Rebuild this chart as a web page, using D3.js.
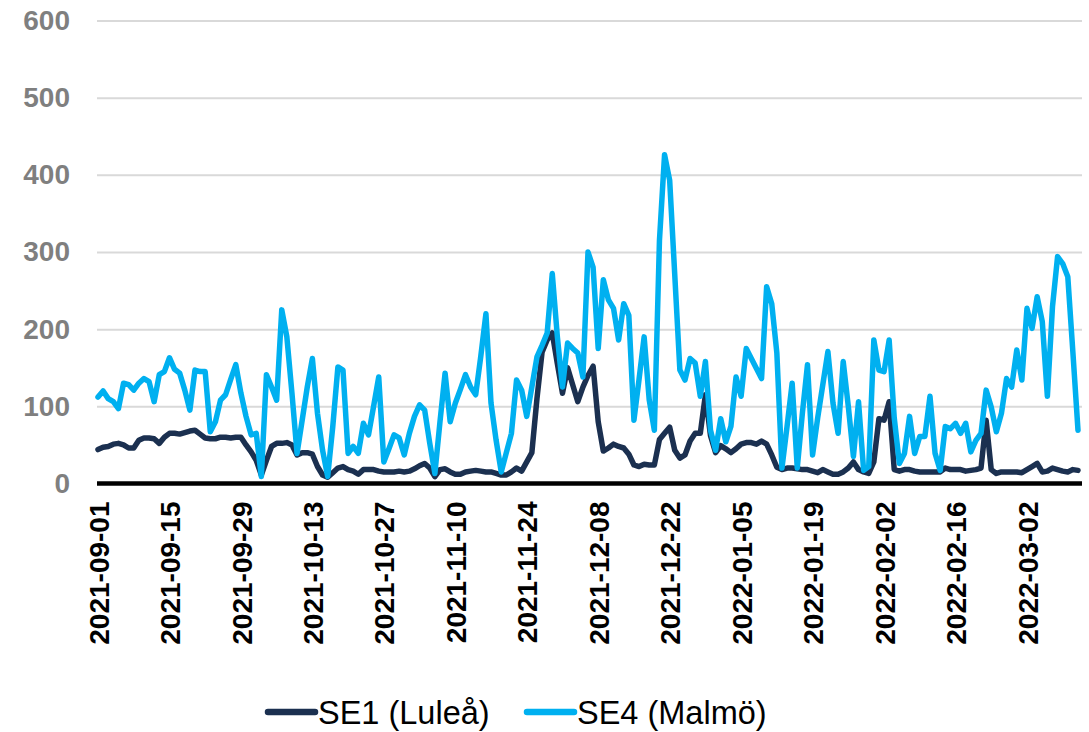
<!DOCTYPE html>
<html>
<head>
<meta charset="utf-8">
<script src="https://cdn.jsdelivr.net/npm/d3@7/dist/d3.min.js"></script>
<style>
  body { margin: 0; background: #fff; }
  svg { font-family: Arial, "Liberation Sans", sans-serif; display: block; }
</style>
</head>
<body>
<svg id="chart"></svg>
<script>
const width = 1089;
const height = 732;

// daily prices, first day 2021-09-01
const startDate = '2021-09-01';

const tickLabels = ['2021-09-01', '2021-09-15', '2021-09-29', '2021-10-13', '2021-10-27',
  '2021-11-10', '2021-11-24', '2021-12-08', '2021-12-22', '2022-01-05', '2022-01-19',
  '2022-02-02', '2022-02-16', '2022-03-02'];

const yTicks = [0, 100, 200, 300, 400, 500, 600];

const seriesNames = ['SE1 (Luleå)', 'SE4 (Malmö)'];

const se1 = [
  44, 47, 48, 51, 52, 50, 46, 46, 56, 59, 59, 58, 52, 60, 65, 65, 64, 66, 68, 69, 64, 59, 58, 58,
  60, 60, 59, 60, 60, 50, 41, 30, 11, 30, 48, 52, 52, 53, 50, 37, 40, 40, 38, 22, 11, 8, 14, 20, 22,
  18, 16, 12, 18, 18, 18, 16, 15, 15, 15, 16, 15, 16, 19, 23, 26, 20, 9, 18, 19, 15, 12, 12, 15,
  16, 17, 16, 15, 15, 13, 11, 11, 15, 20, 16, 28, 40, 110, 170, 186, 195, 155, 117, 150, 128, 106, 125, 140, 152,
  80, 42, 46, 51, 48, 46, 38, 24, 22, 25, 24, 24, 57, 65, 73, 43, 33, 37, 55, 65, 65, 115, 62, 40,
  49, 45, 40, 45, 51, 53, 53, 51, 55, 51, 37, 21, 18, 20, 20, 19, 18, 18, 16, 14, 18, 15, 12, 12, 15,
  20, 28, 18, 15, 13, 28, 84, 82, 106, 18, 16, 18, 18, 16, 15, 15, 15, 15, 15, 20, 18, 18, 18, 16,
  17, 18, 20, 82, 18, 13, 15, 15, 15, 15, 14, 18, 22, 26, 15, 16, 20, 18, 16, 15, 18, 17
];

const se4 = [
  112, 120, 110, 106, 97, 130, 128, 121, 130, 136, 132, 106, 141, 145, 163, 148, 143, 121, 95, 147, 145, 145, 67,
  80, 108, 115, 135, 154, 117, 87, 63, 65, 9, 141, 125, 108, 225, 190, 117, 39, 82, 125, 162, 91, 43, 9, 74, 151, 147,
  39, 48, 39, 78, 63, 100, 138, 28, 45, 63, 59, 37, 65, 87, 102, 95, 52, 13, 80, 143, 80, 104, 122, 141,
  125, 115, 165, 220, 104, 56, 15, 40, 65, 134, 121, 87, 125, 164, 179, 195, 272, 190, 125, 182, 175, 169, 138, 300, 280,
  175, 264, 238, 227, 186, 233, 218, 82, 135, 190, 108, 69, 315, 426, 393, 270, 147, 134, 162, 156, 113, 158, 69, 43,
  84, 54, 74, 138, 113, 175, 162, 149, 136, 255, 233, 169, 20, 74, 130, 20, 91, 154, 37, 85, 128, 171, 104, 65, 158,
  100, 35, 106, 17, 22, 186, 147, 145, 186, 85, 26, 39, 87, 39, 61, 61, 113, 39, 17, 74, 71, 78, 65, 78,
  41, 56, 65, 121, 99, 67, 91, 136, 125, 173, 134, 227, 201, 242, 210, 113, 229, 294, 285, 268, 170, 69
];

const colors = ['#1b3050', '#00b0f0'];

const parseDate = d3.timeParse('%Y-%m-%d');
const day0 = parseDate(startDate);
const dates = se1.map((d, i) => d3.timeDay.offset(day0, i));

const plotLeft = 97;
const plotRight = 1082;
const plotTop = 20.5;
const plotBottom = 483.5;

const svg = d3.select('#chart')
  .attr('width', width)
  .attr('height', height);

const x = d3.scaleTime()
  .domain([dates[0], dates[dates.length - 1]])
  .range([plotLeft + 1, plotRight - 4]);

const y = d3.scaleLinear()
  .domain([0, 600])
  .range([plotBottom, plotTop]);

// y axis + gridlines
const yAxis = d3.axisLeft(y)
  .tickValues(yTicks)
  .tickSize(-(plotRight - plotLeft))
  .tickPadding(27);

const yGroup = svg.append('g')
  .attr('transform', `translate(${plotLeft},0)`)
  .call(yAxis);

yGroup.select('.domain').remove();
yGroup.selectAll('.tick line')
  .attr('stroke', '#d9d9d9')
  .attr('stroke-width', 2);
yGroup.selectAll('.tick text')
  .attr('fill', '#7f7f7f')
  .style('font-size', '28px')
  .style('font-weight', 'bold');

// x axis
const xAxis = d3.axisBottom(x)
  .tickValues(tickLabels.map(parseDate))
  .tickFormat(d3.timeFormat('%Y-%m-%d'))
  .tickSize(0);

const xGroup = svg.append('g')
  .attr('transform', `translate(0,${plotBottom})`)
  .call(xAxis);

xGroup.select('.domain').remove();
xGroup.selectAll('.tick text')
  .attr('transform', 'rotate(-90)')
  .attr('x', -18)
  .attr('y', 0)
  .attr('dy', '0.36em')
  .attr('fill', '#000')
  .style('text-anchor', 'end')
  .style('font-size', '28px')
  .style('font-weight', 'bold');

// lines
const line = d3.line()
  .x((d, i) => x(dates[i]))
  .y(d => y(d));

[se1, se4].forEach((series, k) => {
  svg.append('path')
    .datum(series)
    .attr('fill', 'none')
    .attr('stroke', colors[k])
    .attr('stroke-width', 5.5)
    .attr('stroke-linejoin', 'round')
    .attr('stroke-linecap', 'round')
    .attr('d', line);
});

// baseline
svg.append('line')
  .attr('x1', plotLeft)
  .attr('x2', plotRight)
  .attr('y1', y(0))
  .attr('y2', y(0))
  .attr('stroke', '#000')
  .attr('stroke-width', 4.5);

// legend
const legendX = [268, 527];
const legend = svg.append('g');
seriesNames.forEach((name, k) => {
  legend.append('line')
    .attr('x1', legendX[k])
    .attr('x2', legendX[k] + 47)
    .attr('y1', 712)
    .attr('y2', 712)
    .attr('stroke', colors[k])
    .attr('stroke-width', 6.5)
    .attr('stroke-linecap', 'round');
  legend.append('text')
    .attr('x', legendX[k] + 50)
    .attr('y', 723.5)
    .attr('fill', '#000')
    .style('font-size', '32.5px')
    .text(name);
});
</script>
</body>
</html>
